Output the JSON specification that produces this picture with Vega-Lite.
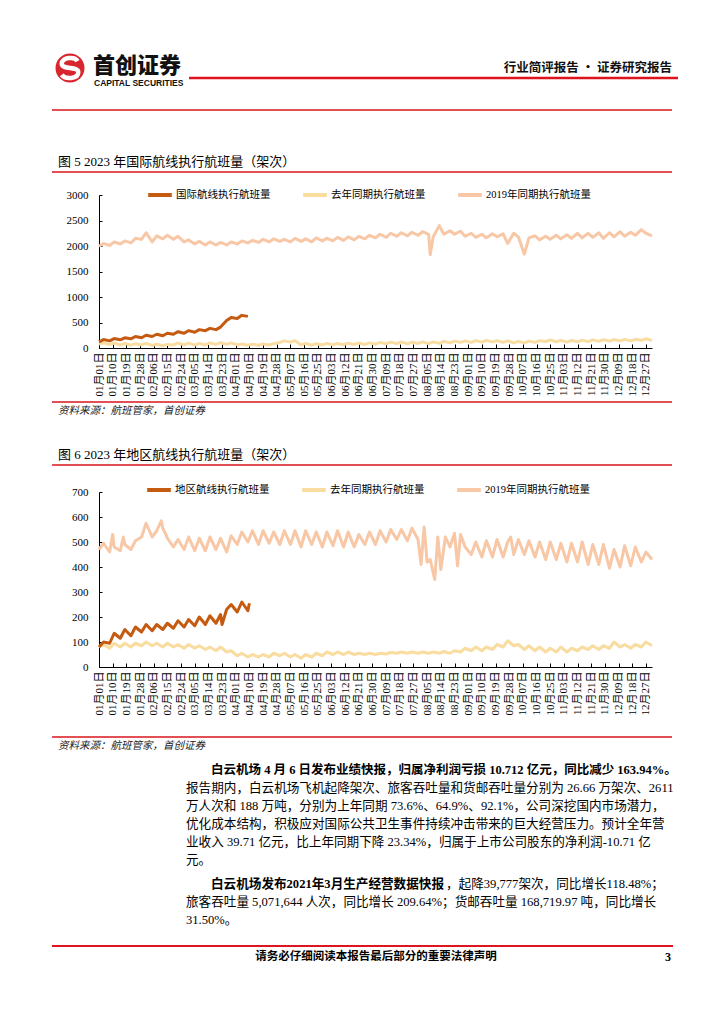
{
"$schema":"https://vega.github.io/schema/vega-lite/v6.json",
"width":724,"height":1024,"padding":0,"autosize":{"type":"none"},"background":"white",
"config":{"view":{"stroke":null},"axis":{"grid":false}},
"datasets":{
"one":[{}],
"intl":[
{"d":0,"a":120,"b":80,"c":1995},{"d":3,"a":165,"b":100,"c":2050},{"d":7,"a":140,"b":70,"c":2010},{"d":10,"a":185,"b":95,"c":2080},{"d":14,"a":160,"b":60,"c":2040},{"d":17,"a":200,"b":90,"c":2100},{"d":21,"a":180,"b":55,"c":2060},{"d":24,"a":225,"b":85,"c":2150},{"d":28,"a":200,"b":60,"c":2130},{"d":31,"a":250,"b":90,"c":2260},{"d":35,"a":225,"b":50,"c":2080},{"d":38,"a":270,"b":75,"c":2200},{"d":42,"a":240,"b":45,"c":2140},{"d":45,"a":290,"b":70,"c":2210},{"d":49,"a":270,"b":60,"c":2130},{"d":52,"a":320,"b":100,"c":2190},{"d":56,"a":290,"b":60,"c":2080},{"d":59,"a":340,"b":95,"c":2120},{"d":63,"a":310,"b":55,"c":2040},{"d":66,"a":360,"b":90,"c":2090},{"d":70,"a":340,"b":60,"c":2020},{"d":73,"a":385,"b":100,"c":2080},{"d":77,"a":360,"b":70,"c":2020},{"d":80,"a":410,"b":105,"c":2070},{"d":84,"a":540,"b":70,"c":2020},{"d":87,"a":600,"b":100,"c":2080},{"d":91,"a":580,"b":60,"c":2040},{"d":94,"a":640,"b":80,"c":2100},{"d":98,"a":620,"b":55,"c":2060},
{"d":101,"b":75,"c":2110},{"d":105,"b":55,"c":2070},{"d":108,"b":80,"c":2130},{"d":112,"b":60,"c":2080},{"d":115,"b":85,"c":2140},{"d":119,"b":110,"c":2090},{"d":122,"b":140,"c":2130},{"d":126,"b":115,"c":2080},{"d":129,"b":145,"c":2150},{"d":133,"b":60,"c":2090},{"d":136,"b":90,"c":2140},{"d":140,"b":55,"c":2080},{"d":143,"b":85,"c":2160},{"d":147,"b":60,"c":2100},{"d":150,"b":90,"c":2150},{"d":154,"b":60,"c":2100},{"d":157,"b":90,"c":2170},{"d":161,"b":65,"c":2110},{"d":164,"b":95,"c":2180},{"d":168,"b":70,"c":2120},{"d":171,"b":100,"c":2190},{"d":175,"b":70,"c":2140},{"d":178,"b":100,"c":2210},{"d":182,"b":75,"c":2160},{"d":185,"b":110,"c":2230},{"d":189,"b":80,"c":2170},{"d":192,"b":115,"c":2250},{"d":196,"b":85,"c":2190},{"d":199,"b":120,"c":2260},{"d":203,"b":80,"c":2200},{"d":206,"b":115,"c":2270},{"d":210,"b":90,"c":2210},{"d":213,"b":120,"c":2280},{"d":217,"b":85,"c":2230},{"d":218,"c":1830},{"d":220,"b":120,"c":2180},{"d":224,"b":90,"c":2400},{"d":227,"b":130,"c":2230},{"d":231,"b":100,"c":2300},{"d":234,"b":135,"c":2230},{"d":238,"b":110,"c":2290},{"d":241,"b":140,"c":2190},{"d":245,"b":110,"c":2250},{"d":248,"b":145,"c":2170},{"d":252,"b":115,"c":2230},{"d":255,"b":150,"c":2160},{"d":259,"b":120,"c":2240},{"d":262,"b":145,"c":2180},{"d":266,"b":110,"c":2240},{"d":269,"b":140,"c":2050},{"d":273,"b":100,"c":2250},{"d":276,"b":130,"c":2180},{"d":280,"b":100,"c":1840},{"d":283,"b":135,"c":2160},{"d":287,"b":110,"c":2200},{"d":290,"b":145,"c":2120},{"d":294,"b":125,"c":2190},{"d":297,"b":160,"c":2130},{"d":301,"b":120,"c":2210},{"d":304,"b":150,"c":2140},{"d":308,"b":115,"c":2220},{"d":311,"b":150,"c":2150},{"d":315,"b":120,"c":2250},{"d":318,"b":155,"c":2160},{"d":322,"b":125,"c":2250},{"d":325,"b":160,"c":2170},{"d":329,"b":130,"c":2260},{"d":332,"b":165,"c":2150},{"d":336,"b":135,"c":2260},{"d":339,"b":165,"c":2180},{"d":343,"b":140,"c":2280},{"d":346,"b":170,"c":2190},{"d":350,"b":140,"c":2270},{"d":353,"b":170,"c":2210},{"d":357,"b":150,"c":2320},{"d":360,"b":180,"c":2250},{"d":364,"b":150,"c":2200}
],
"reg":[
{"d":0,"a":80,"b":80,"c":470},{"d":3,"a":100,"b":90,"c":495},{"d":7,"a":95,"b":75,"c":460},{"d":9,"c":530},{"d":10,"a":135,"b":95,"c":480},{"d":14,"a":115,"b":80,"c":465},{"d":16,"c":520},{"d":17,"a":150,"b":95,"c":490},{"d":21,"a":125,"b":80,"c":470},{"d":24,"a":160,"b":95,"c":505},{"d":28,"a":140,"b":85,"c":520},{"d":31,"a":170,"b":100,"c":575},{"d":35,"a":145,"b":85,"c":520},{"d":38,"a":170,"b":95,"c":545},{"d":41,"c":585},{"d":42,"a":150,"b":80,"c":555},{"d":44,"c":530},{"d":45,"a":175,"b":95,"c":515},{"d":49,"a":155,"b":80,"c":480},{"d":52,"a":185,"b":90,"c":510},{"d":56,"a":160,"b":75,"c":470},{"d":59,"a":190,"b":90,"c":520},{"d":63,"a":165,"b":75,"c":465},{"d":66,"a":200,"b":85,"c":515},{"d":70,"a":170,"b":70,"c":465},{"d":73,"a":205,"b":80,"c":520},{"d":77,"a":175,"b":65,"c":470},{"d":80,"a":210,"b":80,"c":515},{"d":81,"a":170},{"d":84,"a":230,"b":60,"c":460},{"d":87,"a":250,"b":65,"c":525},{"d":91,"a":220,"b":45,"c":490},{"d":94,"a":260,"b":55,"c":540},{"d":98,"a":225,"b":40,"c":500},{"d":99,"a":255},
{"d":101,"b":50,"c":545},{"d":105,"b":40,"c":490},{"d":108,"b":50,"c":545},{"d":112,"b":40,"c":495},{"d":115,"b":55,"c":540},{"d":119,"b":45,"c":490},{"d":122,"b":55,"c":545},{"d":126,"b":40,"c":490},{"d":129,"b":50,"c":545},{"d":133,"b":35,"c":480},{"d":136,"b":50,"c":545},{"d":140,"b":40,"c":490},{"d":143,"b":55,"c":540},{"d":147,"b":45,"c":480},{"d":150,"b":60,"c":540},{"d":154,"b":50,"c":485},{"d":157,"b":60,"c":545},{"d":161,"b":50,"c":480},{"d":164,"b":60,"c":540},{"d":168,"b":50,"c":480},{"d":171,"b":55,"c":530},{"d":175,"b":50,"c":490},{"d":178,"b":55,"c":540},{"d":182,"b":50,"c":490},{"d":185,"b":55,"c":545},{"d":189,"b":52,"c":500},{"d":192,"b":58,"c":550},{"d":196,"b":55,"c":510},{"d":199,"b":60,"c":550},{"d":203,"b":55,"c":505},{"d":206,"b":60,"c":555},{"d":210,"b":55,"c":510},{"d":212,"c":410},{"d":213,"b":60},{"d":214,"c":560},{"d":216,"c":420},{"d":217,"b":55},{"d":218,"c":430},{"d":220,"b":60},{"d":221,"c":350},{"d":223,"c":520},{"d":224,"b":55},{"d":225,"c":390},{"d":227,"b":62},{"d":228,"c":520},{"d":231,"b":55,"c":480},{"d":234,"b":65,"c":535},{"d":236,"c":405},{"d":238,"b":60,"c":530},{"d":241,"b":75,"c":480},{"d":245,"b":65,"c":450},{"d":248,"b":80,"c":500},{"d":252,"b":65,"c":440},{"d":255,"b":80,"c":505},{"d":259,"b":70,"c":440},{"d":262,"b":90,"c":510},{"d":266,"b":80,"c":440},{"d":269,"b":105,"c":500},{"d":271,"c":520},{"d":273,"b":85,"c":450},{"d":276,"b":90,"c":510},{"d":280,"b":70,"c":450},{"d":283,"b":85,"c":505},{"d":287,"b":65,"c":440},{"d":290,"b":80,"c":500},{"d":294,"b":60,"c":430},{"d":297,"b":75,"c":500},{"d":301,"b":60,"c":430},{"d":304,"b":80,"c":495},{"d":308,"b":60,"c":420},{"d":311,"b":75,"c":495},{"d":315,"b":65,"c":420},{"d":318,"b":80,"c":500},{"d":322,"b":70,"c":410},{"d":325,"b":85,"c":490},{"d":329,"b":70,"c":410},{"d":332,"b":85,"c":490},{"d":336,"b":75,"c":395},{"d":339,"b":100,"c":470},{"d":343,"b":80,"c":400},{"d":346,"b":90,"c":485},{"d":350,"b":75,"c":405},{"d":353,"b":90,"c":480},{"d":357,"b":80,"c":420},{"d":360,"b":100,"c":460},{"d":364,"b":85,"c":430}
]},
"layer":[
{"data":{"name":"intl"},
 "transform":[{"fold":["c","b","a"],"as":["s","v"]},{"filter":"isValid(datum.v)"}],
 "mark":{"type":"line","strokeWidth":3,"strokeJoin":"round"},
 "encoding":{
  "x":{"field":"d","type":"quantitative","scale":{"domain":[0,364],"range":[99,652],"nice":false,"zero":false},
   "axis":{"orient":"bottom","offset":-676,"title":null,"values":[0,9,18,27,36,45,54,63,72,81,90,99,108,117,126,135,144,153,162,171,180,189,198,207,216,225,234,243,252,261,270,279,288,297,306,315,324,333,342,351,360],
    "labelExpr":"timeFormat(datetime(2023,0,1+datum.value),'%m月%d日')","labelAngle":-90,"labelFont":"Liberation Serif, Noto Sans CJK SC","labelFontSize":11,"labelColor":"#000","labelOverlap":false,"labelFlush":false,"labelPadding":8,"tickSize":-4,"tickColor":"#000","domainColor":"#000"}},
  "y":{"field":"v","type":"quantitative","scale":{"domain":[0,3000],"range":[348,195],"nice":false},
   "axis":{"orient":"left","offset":-99,"title":null,"format":"d","values":[0,500,1000,1500,2000,2500,3000],"labelFont":"Liberation Serif","labelFontSize":11,"labelColor":"#000","labelPadding":14,"tickSize":-3,"tickColor":"#000","domainColor":"#000"}},
  "color":{"field":"s","type":"nominal","scale":{"domain":["a","b","c"],"range":["#C55A11","#F9DCA0","#F7C7A6"]},
   "legend":{"orient":"none","legendX":146,"legendY":181,"direction":"horizontal","title":null,"symbolType":"stroke","symbolStrokeWidth":4,"symbolSize":560,"labelFont":"Liberation Serif, Noto Sans CJK SC","labelFontSize":10.5,"labelColor":"#000","labelOffset":2,"columnPadding":24,"padding":0,"labelLimit":300,
    "labelExpr":"datum.label=='a'?'国际航线执行航班量':datum.label=='b'?'去年同期执行航班量':'2019年同期执行航班量'"}}
 }},
{"data":{"name":"reg"},
 "transform":[{"fold":["c","b","a"],"as":["s","v"]},{"filter":"isValid(datum.v)"}],
 "mark":{"type":"line","strokeWidth":3,"strokeJoin":"round"},
 "encoding":{
  "x":{"field":"d","type":"quantitative","scale":{"domain":[0,364],"range":[99,652],"nice":false,"zero":false},
   "axis":{"orient":"bottom","offset":-357,"title":null,"values":[0,9,18,27,36,45,54,63,72,81,90,99,108,117,126,135,144,153,162,171,180,189,198,207,216,225,234,243,252,261,270,279,288,297,306,315,324,333,342,351,360],
    "labelExpr":"timeFormat(datetime(2023,0,1+datum.value),'%m月%d日')","labelAngle":-90,"labelFont":"Liberation Serif, Noto Sans CJK SC","labelFontSize":11,"labelColor":"#000","labelOverlap":false,"labelFlush":false,"labelPadding":8,"tickSize":-4,"tickColor":"#000","domainColor":"#000"}},
  "y":{"field":"v","type":"quantitative","scale":{"domain":[0,700],"range":[667,492],"nice":false},
   "axis":{"orient":"left","offset":-99,"title":null,"format":"d","values":[0,100,200,300,400,500,600,700],"labelFont":"Liberation Serif","labelFontSize":11,"labelColor":"#000","labelPadding":14,"tickSize":-3,"tickColor":"#000","domainColor":"#000"}},
  "color":{"field":"s","type":"nominal","scale":{"domain":["a","b","c"],"range":["#C55A11","#F9DCA0","#F7C7A6"]},
   "legend":{"orient":"none","legendX":145,"legendY":476,"direction":"horizontal","title":null,"symbolType":"stroke","symbolStrokeWidth":4,"symbolSize":560,"labelFont":"Liberation Serif, Noto Sans CJK SC","labelFontSize":10.5,"labelColor":"#000","labelOffset":2,"columnPadding":24,"padding":0,"labelLimit":300,
    "labelExpr":"datum.label=='a'?'地区航线执行航班量':datum.label=='b'?'去年同期执行航班量':'2019年同期执行航班量'"}}
 }},
{"data":{"name":"one"},"mark":{"type":"point","shape":"circle","filled":true,"color":"#D7262E","size":840,"opacity":1,"strokeWidth":0},"encoding":{"x":{"value":70},"y":{"value":68}}},
{"data":{"name":"one"},"mark":{"type":"point","shape":"M0.55,-0.5 C0.35,-0.85 -0.6,-0.8 -0.6,-0.3 C-0.6,0.15 0.6,-0.15 0.6,0.3 C0.6,0.8 -0.35,0.85 -0.6,0.5","filled":false,"color":"#ffffff","size":760,"opacity":1,"strokeWidth":4.5},"encoding":{"x":{"value":70},"y":{"value":68}}},
{"data":{"name":"one"},"mark":{"type":"text","text":"首创证券","font":"Noto Sans CJK SC","fontSize":22,"fontWeight":900,"align":"left","baseline":"middle","color":"#111111"},"encoding":{"x":{"value":93},"y":{"value":66}}},
{"data":{"name":"one"},"mark":{"type":"text","text":"CAPITAL SECURITIES","font":"Liberation Sans","fontSize":8.5,"fontWeight":"bold","align":"left","baseline":"middle","color":"#111111"},"encoding":{"x":{"value":94},"y":{"value":83}}},
{"data":{"name":"one"},"mark":{"type":"text","text":"行业简评报告 · 证券研究报告","font":"Noto Sans CJK SC","fontSize":12.5,"fontWeight":"bold","align":"right","baseline":"middle","color":"#111111"},"encoding":{"x":{"value":672},"y":{"value":68}}},
{"data":{"name":"one"},"mark":{"type":"rule","color":"#E0141E","strokeWidth":2.5},"encoding":{"x":{"value":189},"x2":{"value":678},"y":{"value":78}}},
{"data":{"name":"one"},"mark":{"type":"rule","color":"#D9141B","strokeWidth":1.5},"encoding":{"x":{"value":52},"x2":{"value":672},"y":{"value":110}}},
{"data":{"name":"one"},"mark":{"type":"text","text":"图 5 2023 年国际航线执行航班量（架次）","font":"Liberation Serif, Noto Sans CJK SC","fontSize":13,"align":"left","baseline":"middle","color":"#000000"},"encoding":{"x":{"value":58},"y":{"value":162}}},
{"data":{"name":"one"},"mark":{"type":"rule","color":"#D9141B","strokeWidth":1.5},"encoding":{"x":{"value":52},"x2":{"value":672},"y":{"value":172}}},
{"data":{"name":"one"},"mark":{"type":"rule","color":"#D9141B","strokeWidth":1.5},"encoding":{"x":{"value":52},"x2":{"value":672},"y":{"value":402}}},
{"data":{"name":"one"},"mark":{"type":"text","text":"资料来源：航班管家，首创证券","font":"Noto Sans CJK SC","fontSize":10.5,"fontStyle":"italic","align":"left","baseline":"middle","color":"#222222"},"encoding":{"x":{"value":58},"y":{"value":411}}},
{"data":{"name":"one"},"mark":{"type":"text","text":"图 6 2023 年地区航线执行航班量（架次）","font":"Liberation Serif, Noto Sans CJK SC","fontSize":13,"align":"left","baseline":"middle","color":"#000000"},"encoding":{"x":{"value":58},"y":{"value":455}}},
{"data":{"name":"one"},"mark":{"type":"rule","color":"#D9141B","strokeWidth":1.5},"encoding":{"x":{"value":52},"x2":{"value":672},"y":{"value":465}}},
{"data":{"name":"one"},"mark":{"type":"rule","color":"#D9141B","strokeWidth":1.5},"encoding":{"x":{"value":52},"x2":{"value":672},"y":{"value":737}}},
{"data":{"name":"one"},"mark":{"type":"text","text":"资料来源：航班管家，首创证券","font":"Noto Sans CJK SC","fontSize":10.5,"fontStyle":"italic","align":"left","baseline":"middle","color":"#222222"},"encoding":{"x":{"value":58},"y":{"value":746}}},
{"data":{"name":"one"},"mark":{"type":"text","text":"白云机场 4 月 6 日发布业绩快报，归属净利润亏损 10.712 亿元，同比减少 163.94%。","font":"Liberation Serif, Noto Sans CJK SC","fontSize":12.5,"fontWeight":"bold","align":"left","baseline":"middle","color":"#000000"},"encoding":{"x":{"value":211},"y":{"value":770}}},
{"data":{"name":"one"},"mark":{"type":"text","text":"报告期内，白云机场飞机起降架次、旅客吞吐量和货邮吞吐量分别为 26.66 万架次、2611\n万人次和 188 万吨，分别为上年同期 73.6%、64.9%、92.1%，公司深挖国内市场潜力，\n优化成本结构，积极应对国际公共卫生事件持续冲击带来的巨大经营压力。预计全年营\n业收入 39.71 亿元，比上年同期下降 23.34%，归属于上市公司股东的净利润-10.71 亿\n元。","lineBreak":"\n","lineHeight":18,"font":"Liberation Serif, Noto Sans CJK SC","fontSize":12.6,"align":"left","baseline":"middle","color":"#000000"},"encoding":{"x":{"value":186},"y":{"value":788}}},
{"data":{"name":"one"},"mark":{"type":"text","text":"白云机场发布2021年3月生产经营数据快报","font":"Liberation Serif, Noto Sans CJK SC","fontSize":12.6,"fontWeight":"bold","align":"left","baseline":"middle","color":"#000000"},"encoding":{"x":{"value":211},"y":{"value":884}}},
{"data":{"name":"one"},"mark":{"type":"text","text":"，起降39,777架次，同比增长118.48%；","font":"Liberation Serif, Noto Sans CJK SC","fontSize":12.6,"align":"left","baseline":"middle","color":"#000000"},"encoding":{"x":{"value":446},"y":{"value":884}}},
{"data":{"name":"one"},"mark":{"type":"text","text":"旅客吞吐量 5,071,644 人次，同比增长 209.64%；货邮吞吐量 168,719.97 吨，同比增长\n31.50%。","lineBreak":"\n","lineHeight":18,"font":"Liberation Serif, Noto Sans CJK SC","fontSize":12.6,"align":"left","baseline":"middle","color":"#000000"},"encoding":{"x":{"value":186},"y":{"value":902}}},
{"data":{"name":"one"},"mark":{"type":"rule","color":"#E0141E","strokeWidth":2},"encoding":{"x":{"value":52},"x2":{"value":673},"y":{"value":946}}},
{"data":{"name":"one"},"mark":{"type":"text","text":"请务必仔细阅读本报告最后部分的重要法律声明","font":"Noto Sans CJK SC","fontSize":11.5,"fontWeight":"bold","align":"center","baseline":"middle","color":"#000000"},"encoding":{"x":{"value":376},"y":{"value":957}}},
{"data":{"name":"one"},"mark":{"type":"text","text":"3","font":"Liberation Serif","fontSize":12,"fontWeight":"bold","align":"right","baseline":"middle","color":"#000000"},"encoding":{"x":{"value":671},"y":{"value":957}}}
],
"resolve":{"scale":{"x":"independent","y":"independent","color":"independent"},"axis":{"x":"independent","y":"independent"},"legend":{"color":"independent"}}
}
